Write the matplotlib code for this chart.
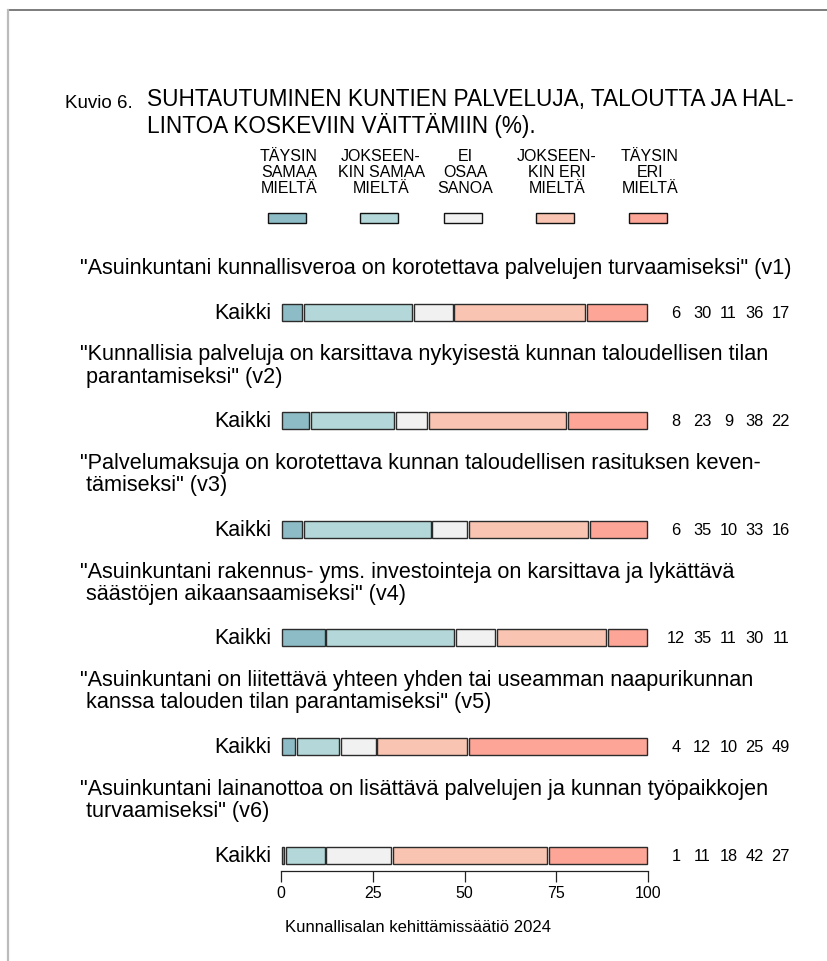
import matplotlib
matplotlib.use("Agg")
import matplotlib.pyplot as plt
import matplotlib.transforms as mtransforms
from matplotlib.patches import Rectangle
from matplotlib.lines import Line2D
import numpy as np

plt.rcParams['font.family'] = ['Liberation Sans', 'DejaVu Sans']

# ---------------- data ----------------
categories = ["TÄYSIN\nSAMAA\nMIELTÄ", "JOKSEEN-\nKIN SAMAA\nMIELTÄ", "EI\nOSAA\nSANOA",
              "JOKSEEN-\nKIN ERI\nMIELTÄ", "TÄYSIN\nERI\nMIELTÄ"]
colors = ["#8dbcc6", "#b4d8da", "#f1f1f1", "#f9c5b2", "#fda596"]
questions = [
    '"Asuinkuntani kunnallisveroa on korotettava palvelujen turvaamiseksi" (v1)',
    '"Kunnallisia palveluja on karsittava nykyisestä kunnan taloudellisen tilan\n parantamiseksi" (v2)',
    '"Palvelumaksuja on korotettava kunnan taloudellisen rasituksen keven-\n tämiseksi" (v3)',
    '"Asuinkuntani rakennus- yms. investointeja on karsittava ja lykättävä\n säästöjen aikaansaamiseksi" (v4)',
    '"Asuinkuntani on liitettävä yhteen yhden tai useamman naapurikunnan\n kanssa talouden tilan parantamiseksi" (v5)',
    '"Asuinkuntani lainanottoa on lisättävä palvelujen ja kunnan työpaikkojen\n turvaamiseksi" (v6)',
]
row_label = "Kaikki"
v1 = [6, 30, 11, 36, 17]
v2 = [8, 23, 9, 38, 22]
v3 = [6, 35, 10, 33, 16]
v4 = [12, 35, 11, 30, 11]
v5 = [4, 12, 10, 25, 49]
v6 = [1, 11, 18, 42, 27]
values = [v1, v2, v3, v4, v5, v6]
xticks = [0, 25, 50, 75, 100]
title_prefix = "Kuvio 6."
title = "SUHTAUTUMINEN KUNTIEN PALVELUJA, TALOUTTA JA HAL-\nLINTOA KOSKEVIIN VÄITTÄMIIN (%)."
caption = "Kunnallisalan kehittämissäätiö 2024"

# ---------------- layout ----------------
W, H = 827, 962
fig = plt.figure(figsize=(W / 100, H / 100), dpi=100)

def fx(x):
    return x / W

def fy(y):
    return 1 - y / H

ax_left, ax_right = 281, 648
ax_top, ax_bottom = 250, 872
ax = fig.add_axes([fx(ax_left), fy(ax_bottom), (ax_right - ax_left) / W, (ax_bottom - ax_top) / H])
row_px = 108.6
n = len(values)
ybot = (n - 1) + 16 / row_px
ytop = ybot - (ax_bottom - ax_top) / row_px
ax.set_ylim(ybot, ytop)
ax.set_xlim(0, 100)

bar_h = 17 / row_px
gap = 0.25
for i, vals in enumerate(values):
    total = float(sum(vals))
    shares = [100.0 * v / total for v in vals]
    left = 0.0
    for j, s in enumerate(shares):
        ax.barh(i, s - 2 * gap, left=left + gap, height=bar_h, color=colors[j],
                edgecolor="#2b2b2b", linewidth=1.0, clip_on=False)
        left += s
    ax.text(-2.5, i, row_label, ha="right", va="center", fontsize=15.5)
    for j, v in enumerate(vals):
        ax.text(107.6 + 7.15 * j, i, str(v), ha="center", va="center", fontsize=11.8)

# question texts
qtrans = mtransforms.blended_transform_factory(fig.transFigure, ax.transData)
for i, q in enumerate(questions):
    ax.text(fx(80), i - 34 / row_px, q, transform=qtrans, ha="left", va="bottom",
            fontsize=15.6, linespacing=1.07, clip_on=False)

# axes styling
for s in ["top", "right", "left"]:
    ax.spines[s].set_visible(False)
ax.spines["bottom"].set_color("#222222")
ax.spines["bottom"].set_linewidth(0.9)
ax.set_yticks([])
ax.set_xticks(xticks)
ax.set_xticklabels([str(t) for t in xticks])
ax.tick_params(axis="x", direction="out", length=8, width=0.9, color="#222222",
               labelsize=11.5, pad=2)
ax.patch.set_alpha(0)

# title
fig.text(fx(65), fy(108), title_prefix, fontsize=13.5, ha="left", va="baseline")
fig.text(fx(147), fy(133), title, fontsize=16.3, ha="left", va="baseline", linespacing=1.12)

# legend
col_x = [289, 381, 465, 557, 650]
for cx, lab, c in zip(col_x, categories, colors):
    fig.text(fx(cx), fy(149), lab, fontsize=11.5, ha="center", va="top", linespacing=1.1)
    fig.add_artist(Rectangle((fx(cx - 21), fy(224)), 38 / W, 10 / H, transform=fig.transFigure,
                             facecolor=c, edgecolor="#111111", linewidth=1.0))

# caption
fig.text(fx(285), fy(928), caption, fontsize=12, ha="left", va="center")

# frame lines
fig.add_artist(Line2D([fx(8), 1], [fy(11), fy(11)], transform=fig.transFigure,
                      color="#666666", linewidth=1.2))
fig.add_artist(Line2D([fx(8), fx(8)], [fy(11), 0], transform=fig.transFigure,
                      color="#bbbbbb", linewidth=1.6))

fig.savefig("out.png", dpi=100)
